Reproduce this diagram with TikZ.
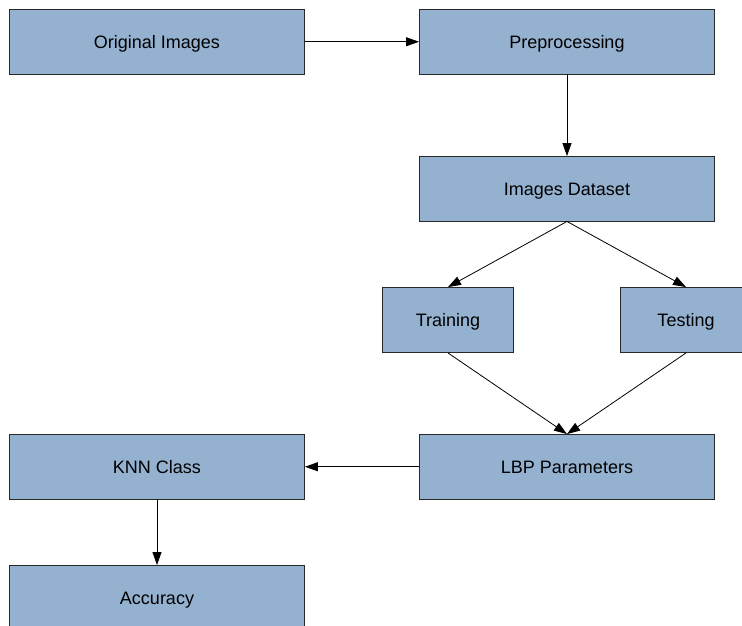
\documentclass[tikz,border=0pt]{standalone}
\usepackage{fontspec}
\setmainfont{Liberation Sans}
\usetikzlibrary{arrows.meta}
\definecolor{boxfill}{RGB}{149,177,208}
\definecolor{boxline}{RGB}{40,40,40}
\tikzset{
  flowbox/.style={draw=boxline, line width=0.9pt, fill=boxfill, inner sep=0pt,
    text height=13pt, text depth=0pt,
    font=\fontsize{18}{20}\selectfont},
  wide/.style={flowbox, minimum width=295pt, minimum height=64.5pt},
  narrow/.style={flowbox, minimum width=131pt, minimum height=65pt},
  flowarrow/.style={draw=black, line width=0.8pt, -{Triangle[length=13pt,width=9pt]}}
}
\begin{document}
\begin{tikzpicture}[x=1pt,y=-1pt]
  \useasboundingbox (0,0) rectangle (742,626);
  \clip (0,0) rectangle (742,626);
  % process boxes
  \node[wide]   (orig)  at (157,41.75)   {Original Images};
  \node[wide]   (prep)  at (567,41.75)   {Preprocessing};
  \node[wide]   (data)  at (567,188.75)  {Images Dataset};
  \node[narrow] (train) at (448,320)     {Training};
  \node[narrow] (test)  at (686,320)     {Testing};
  \node[wide]   (lbp)   at (567,466.75)  {LBP Parameters};
  \node[wide]   (knn)   at (157,466.75)  {KNN Class};
  \node[wide]   (acc)   at (157,597.75)  {Accuracy};
  % connectors
  \draw[flowarrow] (orig.east) -- (prep.west);
  \draw[flowarrow] (prep.south) -- (data.north);
  \draw[flowarrow] (data.south) -- (train.north);
  \draw[flowarrow] (data.south) -- (test.north);
  \draw[flowarrow] (train.south) -- (lbp.north);
  \draw[flowarrow] (test.south) -- (lbp.north);
  \draw[flowarrow] (lbp.west) -- (knn.east);
  \draw[flowarrow] (knn.south) -- (acc.north);
\end{tikzpicture}
\end{document}
